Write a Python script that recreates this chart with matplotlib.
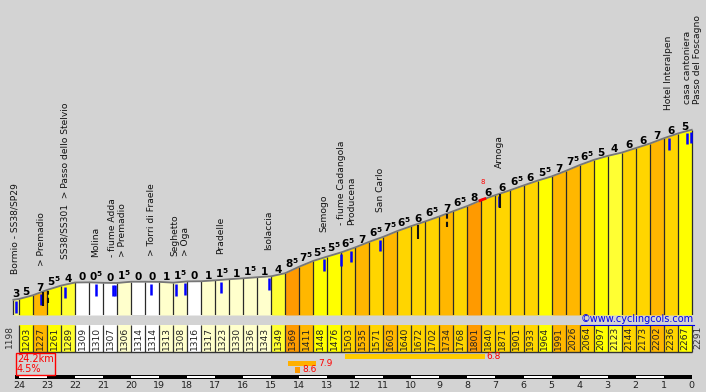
import numpy as np
import matplotlib
matplotlib.use('Agg')
import matplotlib.pyplot as plt
from matplotlib.patches import Rectangle
from matplotlib.lines import Line2D
from matplotlib.transforms import IdentityTransform

plt.rcParams['font.family'] = ['DejaVu Sans']
plt.rcParams['mathtext.fontset'] = 'dejavusans'

#%% data
km_start = 24.2
# elevation at 24.2 km, then every 0.5 km from 24.0 down to 0
elev = [1198, 1203, 1227, 1261, 1289, 1309, 1310, 1307, 1306, 1314, 1314, 1313, 1308,
        1316, 1317, 1323, 1330, 1336, 1343, 1349, 1369, 1411, 1448, 1476, 1503,
        1535, 1571, 1603, 1640, 1672, 1702, 1734, 1768, 1801, 1840, 1871, 1901,
        1933, 1964, 1991, 2026, 2064, 2097, 2123, 2144, 2173, 2202, 2236, 2267, 2291]
km = [km_start] + list(np.arange(24.0, -0.01, -0.5))

# gradient shown above each segment ("6^5" = 6.5)
grades = ["3", "5", "7", "5^5", "4", "0", "0^5", "0", "1^5", "0", "0", "1", "1^5",
          "0", "1", "1^5", "1", "1^5", "1", "4", "8^5", "7^5", "5^5", "5^5", "6^5",
          "7", "6^5", "7^5", "6^5", "6", "6^5", "7", "6^5", "8", "6", "6", "6^5",
          "6", "5^5", "7", "7^5", "6^5", "5", "4", "6", "6", "7", "6", "5"]

# places (label, km)
place_names = ["Bormio - SS38/SP29", "> Premadio", "SS38/SS301  > Passo dello Stelvio",
               "Molina", "- fiume Adda\n> Premadio", "> Torri di Fraele",
               "Seghetto\n> Oga", "Pradelle", "Isolaccia", "Semogo",
               "- fiume Cadangola\nProducena", "San Carlo", "Arnoga",
               "Hotel Interalpen", "casa cantoniera\nPasso del Foscagno"]
place_km = [24.14, 23.21, 22.36, 21.25, 20.48, 19.29, 18.24, 16.79, 15.08, 13.12,
            12.32, 11.12, 6.87, 0.81, -0.03]

blue_km = [24.12, 23.21, 22.36, 21.25, 20.66, 20.59, 19.29, 18.40, 18.08, 16.79,
           15.08, 13.12, 12.51, 12.15, 11.12, 6.87, 0.81, 0.17, 0.03]
black_km = [23.14, 9.76, 6.84]
black_dash_km = [22.98, 8.73]

# steepest spot
max_km = [7.55, 7.38]
max_grade = "8"

# climb sections below the table: (from km, to km, avg grade)
climb_from = [12.36, 14.39, 14.14]
climb_to = [7.39, 13.39, 13.96]
climb_grade = [6.8, 7.9, 8.6]

grade_colors = {'0': 'white', '1': '#ffffcc', '3': '#ffff80', '4': '#ffff33',
                '5': '#ffff00', '6': '#ffd500', '7': '#ffb700', '8': '#ff9a00'}
climb_colors = ['#ffcc00', '#ffb000', '#ff9900']

#%% figure layout (pixel scale of the original)
W, H = 706, 392
ppk = 28.03          # pixels per km
x0 = 691.7           # pixel of km 0
xlim = (x0 / ppk, (x0 - W) / ppk)
base = 1100
m_per_px = 6.43

fig = plt.figure(figsize=(W / 100, H / 100), dpi=100)
fig.patch.set_facecolor('#d3d3d3')

ax = fig.add_axes([0, 77 / H, 1, 315 / H])
ax.set_xlim(xlim)
ax.set_ylim(base, base + 315 * m_per_px)
ax.axis('off')

axb = fig.add_axes([0, 0, 1, 77 / H])
axb.set_xlim(xlim)
axb.set_ylim(H, 315)
axb.axis('off')

km_arr = np.array(km)
el_arr = np.array(elev)


def elev_at(k):
    return np.interp(k, km_arr[::-1], el_arr[::-1])


def grade_txt(g):
    if '^' in g:
        a, b = g.split('^')
        return r'$\mathbf{%s}^{\mathbf{%s}}$' % (a, b)
    return g


#%% profile
for i, g in enumerate(grades):
    ax.fill_between([km[i], km[i + 1]], [elev[i], elev[i + 1]], base,
                    color=grade_colors[g[0]], lw=0)
ax.vlines(km, base, elev, colors='#2a2a2a', lw=0.9)
ax.plot(km, elev, color='#767676', lw=1.3)

# red steepest part
mk = np.linspace(max_km[0], max_km[1], 5)
ax.plot(mk, elev_at(mk), color='red', lw=2)
ax.annotate(max_grade, (np.mean(max_km), elev_at(np.mean(max_km))), xytext=(0, 16),
            textcoords='offset pixels', ha='center', va='baseline', fontsize=5,
            color='red')

# place markers
be = elev_at(np.array(blue_km))
ax.vlines(blue_km, be - 85, be - 12, colors='#0000ff', lw=1.8)
ke = elev_at(np.array(black_km))
ax.vlines(black_km, ke - 95, ke - 5, colors='#111111', lw=1.5)
de = elev_at(np.array(black_dash_km))
ax.vlines(black_dash_km, de - 85, de - 5, colors='#111111', lw=1.5,
          linestyles=(0, (2.5, 1.5)))

# gradient numbers
for i, g in enumerate(grades):
    mid_k = (km[i] + km[i + 1]) / 2
    mid_e = (elev[i] + elev[i + 1]) / 2
    ax.annotate(grade_txt(g), (mid_k, mid_e), xytext=(0, 2), textcoords='offset pixels',
                ha='center', va='baseline', fontsize=7.6, fontweight='bold')

# place names
for name, k in zip(place_names, place_km):
    ax.annotate(name, (k, elev_at(k)), xytext=(0, 26), textcoords='offset pixels',
                rotation=90, ha='center', va='bottom', fontsize=6.6,
                multialignment='left', color='#111111')

#%% elevation table
for j in range(len(grades) - 1):
    k0, k1 = km[j + 1], km[j + 2]
    axb.bar((k0 + k1) / 2, 27, bottom=325, width=0.5,
            color=grade_colors[grades[j + 1][0]], lw=0)
    axb.text((k0 + k1) / 2, 338, str(elev[j + 1]), rotation=90, ha='center',
             va='center', fontsize=6.6, color='#222222')
axb.vlines(km[1:], 325, 352, colors='#333333', lw=0.9)
axb.hlines(352, km[1], km[-1], colors='#333333', lw=1.0)
axb.annotate(str(elev[0]), (km[1], 337), xytext=(-10, 0), textcoords='offset pixels',
             rotation=90, ha='center', va='center', fontsize=6.6, color='#333333')
axb.annotate(str(elev[-1]), (km[-1], 337), xytext=(6, 0), textcoords='offset pixels',
             rotation=90, ha='center', va='center', fontsize=6.6, color='#333333')

# copyright link
t = axb.text((x0 - 694) / ppk, 321.5, '©www.cyclingcols.com', ha='right', va='baseline',
             fontsize=7, color='#0000ee')

# summary box
avg = (elev[-1] - elev[0]) / (km_start * 10)
axb.text((x0 - 17) / ppk, 364, '%.1fkm\n%.1f%%' % (km_start, avg), ha='left', va='center',
         fontsize=7, color='red', linespacing=1.0,
         bbox=dict(boxstyle='square,pad=0.15', fc='none', ec='red', lw=1))

# climb sections
rows = [(354, 5), (361, 5), (367, 6)]
for (k0, k1, g), (y, h), c in zip(zip(climb_from, climb_to, climb_grade), rows, climb_colors):
    axb.add_patch(Rectangle((k1, y), k0 - k1, h, color=c, lw=0))
    axb.annotate('%.1f' % g, (k1, y + h / 2), xytext=(2, 0), textcoords='offset pixels',
                 ha='left', va='center', fontsize=6.5, color='red')

# km scale bar
axb.add_patch(Rectangle((0, 375), km_start - 0.05, 3.7, color='black', lw=0))
for k in range(1, 24, 2):
    axb.add_patch(Rectangle((k, 375.9), 1, 1.9, color='white', lw=0))
for k in range(25):
    axb.text(k, 385, str(k), ha='center', va='center', fontsize=6.8, color='#222222')

# underline for the link
fig.canvas.draw()
bb = t.get_window_extent()
fig.add_artist(Line2D([bb.x0, bb.x1], [bb.y0 - 1, bb.y0 - 1], transform=IdentityTransform(),
                      color='#0000ee', lw=0.8))

fig.savefig('out.png', dpi=100, facecolor=fig.get_facecolor())
